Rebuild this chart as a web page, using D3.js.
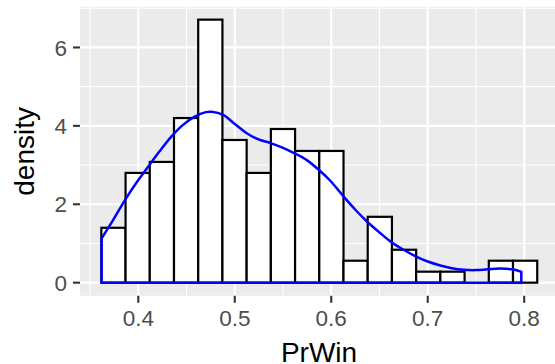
<!DOCTYPE html>
<html>
<head>
<meta charset="utf-8">
<script src="https://cdn.jsdelivr.net/npm/d3@7"></script>
<style>
  html, body { margin: 0; padding: 0; background: #ffffff; }
  svg { display: block; }
  text { font-family: "Liberation Sans", Arial, sans-serif; }
</style>
</head>
<body>
<svg id="chart" width="555" height="364"></svg>
<script>
// Histogram of PrWin (density scale) with a kernel density outline.
const binEdges = [0.3617, 0.3868, 0.4119, 0.4370, 0.4621, 0.4872, 0.5123, 0.5374, 0.5625,
                  0.5876, 0.6127, 0.6378, 0.6629, 0.6880, 0.7131, 0.7382, 0.7633, 0.7884, 0.8135];
const binDensity = [1.40, 2.80, 3.08, 4.20, 6.71, 3.64, 2.80, 3.92, 3.36,
                    3.36, 0.56, 1.68, 0.84, 0.28, 0.28, 0.00, 0.56, 0.56];

// Kernel density estimate, sampled along PrWin
const kdeX = [0.3620, 0.3740, 0.3860, 0.3980, 0.4100, 0.4220, 0.4340, 0.4460, 0.4580, 0.4700,
              0.4760, 0.4880, 0.5000, 0.5120, 0.5240, 0.5370, 0.5500, 0.5620, 0.5750, 0.5870,
              0.5990, 0.6120, 0.6250, 0.6370, 0.6500, 0.6620, 0.6750, 0.6870, 0.7000, 0.7130,
              0.7250, 0.7370, 0.7500, 0.7620, 0.7750, 0.7870, 0.7970];
const kdeY = [1.13, 1.60, 2.10, 2.55, 2.95, 3.35, 3.72, 4.02, 4.23, 4.35,
              4.36, 4.28, 4.05, 3.82, 3.66, 3.56, 3.44, 3.30, 3.12, 2.88,
              2.60, 2.22, 1.86, 1.56, 1.28, 1.04, 0.84, 0.68, 0.54, 0.44,
              0.37, 0.33, 0.32, 0.34, 0.36, 0.34, 0.28];

const xTicks = [0.4, 0.5, 0.6, 0.7, 0.8];
const xMinor = [0.35, 0.45, 0.55, 0.65, 0.75, 0.85];
const yTicks = [0, 2, 4, 6];
const yMinor = [1, 3, 5, 7];

const panel = { left: 80, right: 558, top: 6.9, bottom: 295.8 };

const x = d3.scaleLinear().domain([0.33957, 0.83503]).range([panel.left, panel.right]);
const y = d3.scaleLinear().domain([-0.335, 7.035]).range([panel.bottom, panel.top]);

const svg = d3.select("#chart");

svg.append("defs").append("clipPath").attr("id", "panel-clip")
  .append("rect")
  .attr("x", panel.left).attr("y", panel.top)
  .attr("width", panel.right - panel.left).attr("height", panel.bottom - panel.top);

// panel background
svg.append("rect")
  .attr("x", panel.left).attr("y", panel.top)
  .attr("width", panel.right - panel.left).attr("height", panel.bottom - panel.top)
  .attr("fill", "#EBEBEB");

const grid = svg.append("g").attr("clip-path", "url(#panel-clip)");

// minor grid
grid.selectAll(".vminor").data(xMinor).join("line")
  .attr("x1", d => x(d)).attr("x2", d => x(d))
  .attr("y1", panel.top).attr("y2", panel.bottom)
  .attr("stroke", "#ffffff").attr("stroke-width", 1.1);
grid.selectAll(".hminor").data(yMinor).join("line")
  .attr("y1", d => y(d)).attr("y2", d => y(d))
  .attr("x1", panel.left).attr("x2", panel.right)
  .attr("stroke", "#ffffff").attr("stroke-width", 1.1);

// major grid
grid.selectAll(".vmajor").data(xTicks).join("line")
  .attr("x1", d => x(d)).attr("x2", d => x(d))
  .attr("y1", panel.top).attr("y2", panel.bottom)
  .attr("stroke", "#ffffff").attr("stroke-width", 2.2);
grid.selectAll(".hmajor").data(yTicks).join("line")
  .attr("y1", d => y(d)).attr("y2", d => y(d))
  .attr("x1", panel.left).attr("x2", panel.right)
  .attr("stroke", "#ffffff").attr("stroke-width", 2.2);

const plot = svg.append("g").attr("clip-path", "url(#panel-clip)");

// histogram bars
const bins = binDensity.map((d, i) => ({ x0: binEdges[i], x1: binEdges[i + 1], d }));
plot.selectAll("rect.bar").data(bins).join("rect")
  .attr("class", "bar")
  .attr("x", b => x(b.x0))
  .attr("width", b => x(b.x1) - x(b.x0))
  .attr("y", b => y(b.d))
  .attr("height", b => y(0) - y(b.d))
  .attr("fill", "#ffffff")
  .attr("stroke", "#000000")
  .attr("stroke-width", 2.2);

// density outline: closed polygon down to zero at both ends
const kdePts = kdeX.map((v, i) => [v, kdeY[i]]);
const curveLine = d3.line()
  .x(p => x(p[0])).y(p => y(p[1]))
  .curve(d3.curveCatmullRom.alpha(0.5));
const first = kdePts[0], last = kdePts[kdePts.length - 1];
plot.append("path")
  .attr("d", `M${x(first[0])},${y(0)}L` + curveLine(kdePts).slice(1) + `L${x(last[0])},${y(0)}Z`)
  .attr("fill", "none")
  .attr("stroke", "#0000FF")
  .attr("stroke-width", 2.5)
  .attr("stroke-linejoin", "round");

// axes
const tickColor = "#333333", labelColor = "#4D4D4D";
const xAxis = svg.append("g");
xAxis.selectAll("line").data(xTicks).join("line")
  .attr("x1", d => x(d)).attr("x2", d => x(d))
  .attr("y1", panel.bottom).attr("y2", panel.bottom + 7)
  .attr("stroke", tickColor).attr("stroke-width", 2.1);
xAxis.selectAll("text").data(xTicks).join("text")
  .attr("x", d => x(d)).attr("y", 326)
  .attr("text-anchor", "middle")
  .attr("font-size", 22.5).attr("fill", labelColor)
  .text(d => d3.format(".1f")(d));

const yAxis = svg.append("g");
yAxis.selectAll("line").data(yTicks).join("line")
  .attr("x1", panel.left - 7).attr("x2", panel.left)
  .attr("y1", d => y(d)).attr("y2", d => y(d))
  .attr("stroke", tickColor).attr("stroke-width", 2.1);
yAxis.selectAll("text").data(yTicks).join("text")
  .attr("x", panel.left - 13).attr("y", d => y(d))
  .attr("dy", "0.36em")
  .attr("text-anchor", "end")
  .attr("font-size", 22.5).attr("fill", labelColor)
  .text(d => d);

// axis titles
svg.append("text")
  .attr("x", (panel.left + panel.right) / 2).attr("y", 361.5)
  .attr("text-anchor", "middle")
  .attr("font-size", 28).attr("fill", "#000000")
  .text("PrWin");
svg.append("text")
  .attr("transform", `translate(34,${(panel.top + panel.bottom) / 2}) rotate(-90)`)
  .attr("text-anchor", "middle")
  .attr("font-size", 28).attr("fill", "#000000")
  .text("density");
</script>
</body>
</html>
